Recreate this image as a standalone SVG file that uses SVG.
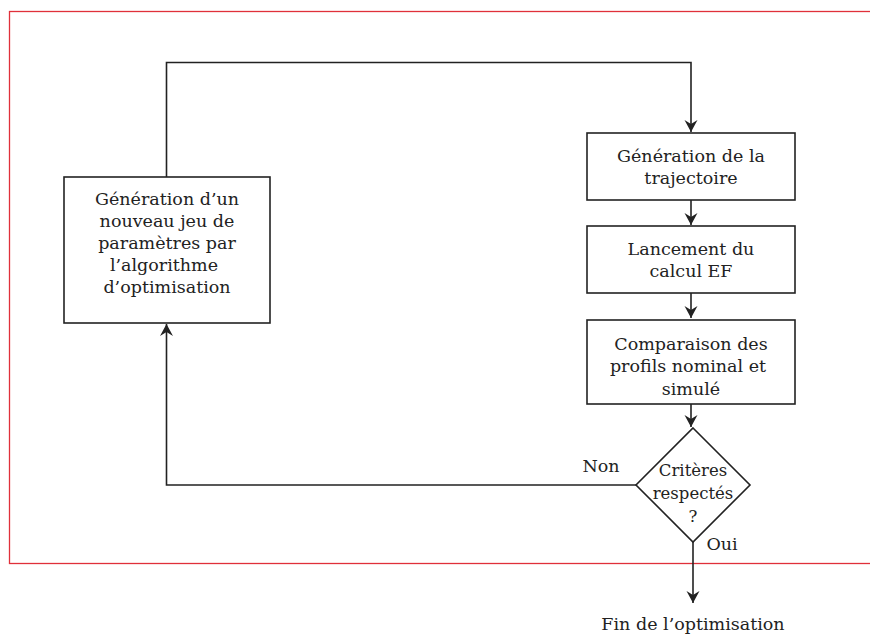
<svg xmlns="http://www.w3.org/2000/svg" width="870" height="635" viewBox="0 0 870 635">
<defs>
<marker id="arr" markerUnits="userSpaceOnUse" markerWidth="14" markerHeight="14" viewBox="-13 -7 14 14" refX="0" refY="0" orient="auto">
<path d="M0,0 L-12,-6.5 L-8,0 L-12,6.5 Z" fill="#222"/>
</marker>
</defs>
<style>
.box{fill:#fff;stroke:#222;stroke-width:1.6}
.ln{fill:none;stroke:#222;stroke-width:1.6}
text{font-family:"DejaVu Serif","Liberation Serif",serif;font-size:17.5px;fill:#222;text-anchor:middle}
.dt{font-size:16.5px}
</style>
<rect x="9.5" y="11.5" width="880" height="552" fill="none" stroke="#e0303a" stroke-width="1.3"/>
<g id="connectors">
<path class="ln" d="M166.5,177 V62.5 H691 V132" marker-end="url(#arr)"/>
<path class="ln" d="M691,200 V225" marker-end="url(#arr)"/>
<path class="ln" d="M691,293 V318" marker-end="url(#arr)"/>
<path class="ln" d="M691,404 V427" marker-end="url(#arr)"/>
<path class="ln" d="M636,485 H166.5 V324" marker-end="url(#arr)"/>
<path class="ln" d="M693,542 V603" marker-end="url(#arr)"/>
<text x="601" y="472">Non</text>
<text x="722" y="550">Oui</text>
</g>
<g id="n1">
<rect class="box" x="64" y="177" width="206" height="146"/>
<text x="167" y="205">Génération d’un</text>
<text x="167" y="227">nouveau jeu de</text>
<text x="167" y="249">paramètres par</text>
<text x="164" y="271">l’algorithme</text>
<text x="167" y="293">d’optimisation</text>
</g>
<g id="n2">
<rect class="box" x="587" y="133" width="208" height="67"/>
<text x="691" y="162">Génération de la</text>
<text x="691" y="184">trajectoire</text>
</g>
<g id="n3">
<rect class="box" x="587" y="226" width="208" height="67"/>
<text x="691" y="255">Lancement du</text>
<text x="691" y="277">calcul EF</text>
</g>
<g id="n4">
<rect class="box" x="587" y="320" width="208" height="84"/>
<text x="691" y="350">Comparaison des</text>
<text x="688" y="372">profils nominal et</text>
<text x="691" y="395">simulé</text>
</g>
<g id="n5">
<polygon class="box" points="693,428 750,485 693,542 636,485"/>
<text class="dt" x="693" y="476">Critères</text>
<text class="dt" x="693" y="499">respectés</text>
<text class="dt" x="693" y="522">?</text>
</g>
<g id="n6">
<text x="693" y="630">Fin de l’optimisation</text>
</g>
</svg>
